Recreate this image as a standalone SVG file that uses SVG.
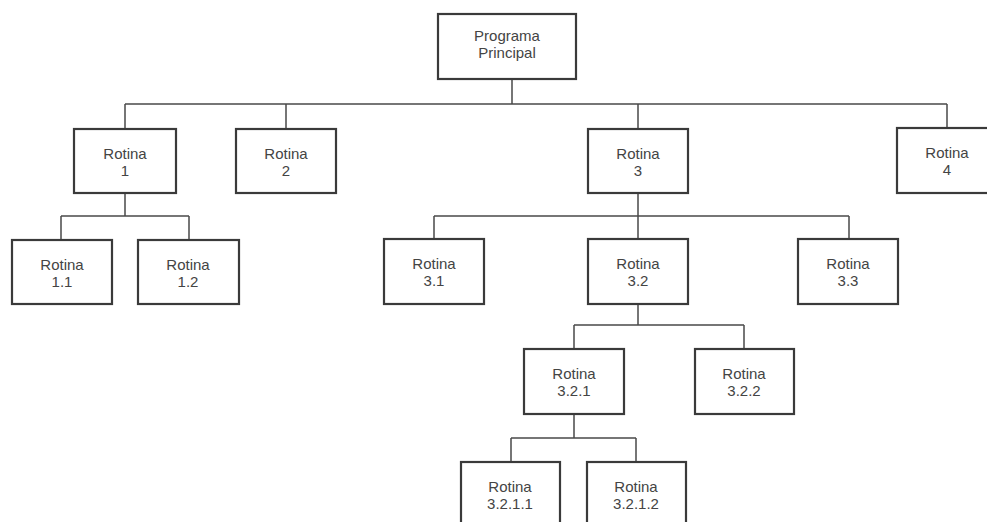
<svg xmlns="http://www.w3.org/2000/svg" width="987" height="522" viewBox="0 0 987 522">
<style>
.box{fill:#fff;stroke:#3a3a3a;stroke-width:2.2}
.lbl{font-family:"Liberation Sans",Arial,sans-serif;font-size:15px;fill:#444;text-anchor:middle}
.conn{fill:none;stroke:#4a4a4a;stroke-width:1.5}
</style>
<rect width="987" height="522" fill="#fff"/>
<g id="connectors" class="conn">
<path d="M512 79V104M125 104H947M125 104V129M286 104V129M638 104V129M947 104V128"/>
<path d="M125 193V216M61 216H189M61 216V240M189 216V240"/>
<path d="M638 193V216M434 216H849M434 216V239M638 216V239M849 216V239"/>
<path d="M638 304V325M574 325H744M574 325V349M744 325V349"/>
<path d="M574 414V438M511 438H636M511 438V462M636 438V462"/>
</g>
<g id="programa"><rect class="box" x="438" y="14" width="138" height="65"/><text class="lbl" x="507" y="41">Programa</text><text class="lbl" x="507" y="58">Principal</text></g>
<g id="r1"><rect class="box" x="74" y="129" width="102" height="64"/><text class="lbl" x="125" y="159">Rotina</text><text class="lbl" x="125" y="176">1</text></g>
<g id="r2"><rect class="box" x="236" y="129" width="100" height="64"/><text class="lbl" x="286" y="159">Rotina</text><text class="lbl" x="286" y="176">2</text></g>
<g id="r3"><rect class="box" x="588" y="129" width="100" height="64"/><text class="lbl" x="638" y="159">Rotina</text><text class="lbl" x="638" y="176">3</text></g>
<g id="r4"><rect class="box" x="897" y="128" width="100" height="65"/><text class="lbl" x="947" y="158">Rotina</text><text class="lbl" x="947" y="175">4</text></g>
<g id="r1_1"><rect class="box" x="12" y="240" width="100" height="64"/><text class="lbl" x="62" y="270">Rotina</text><text class="lbl" x="62" y="287">1.1</text></g>
<g id="r1_2"><rect class="box" x="138" y="240" width="101" height="64"/><text class="lbl" x="188" y="270">Rotina</text><text class="lbl" x="188" y="287">1.2</text></g>
<g id="r3_1"><rect class="box" x="384" y="239" width="100" height="65"/><text class="lbl" x="434" y="269">Rotina</text><text class="lbl" x="434" y="286">3.1</text></g>
<g id="r3_2"><rect class="box" x="588" y="239" width="100" height="65"/><text class="lbl" x="638" y="269">Rotina</text><text class="lbl" x="638" y="286">3.2</text></g>
<g id="r3_3"><rect class="box" x="798" y="239" width="100" height="65"/><text class="lbl" x="848" y="269">Rotina</text><text class="lbl" x="848" y="286">3.3</text></g>
<g id="r3_2_1"><rect class="box" x="524" y="349" width="100" height="65"/><text class="lbl" x="574" y="379">Rotina</text><text class="lbl" x="574" y="396">3.2.1</text></g>
<g id="r3_2_2"><rect class="box" x="695" y="349" width="99" height="65"/><text class="lbl" x="744" y="379">Rotina</text><text class="lbl" x="744" y="396">3.2.2</text></g>
<g id="r3_2_1_1"><rect class="box" x="461" y="462" width="99" height="70"/><text class="lbl" x="510" y="492">Rotina</text><text class="lbl" x="510" y="509">3.2.1.1</text></g>
<g id="r3_2_1_2"><rect class="box" x="587" y="462" width="99" height="70"/><text class="lbl" x="636" y="492">Rotina</text><text class="lbl" x="636" y="509">3.2.1.2</text></g>
</svg>
